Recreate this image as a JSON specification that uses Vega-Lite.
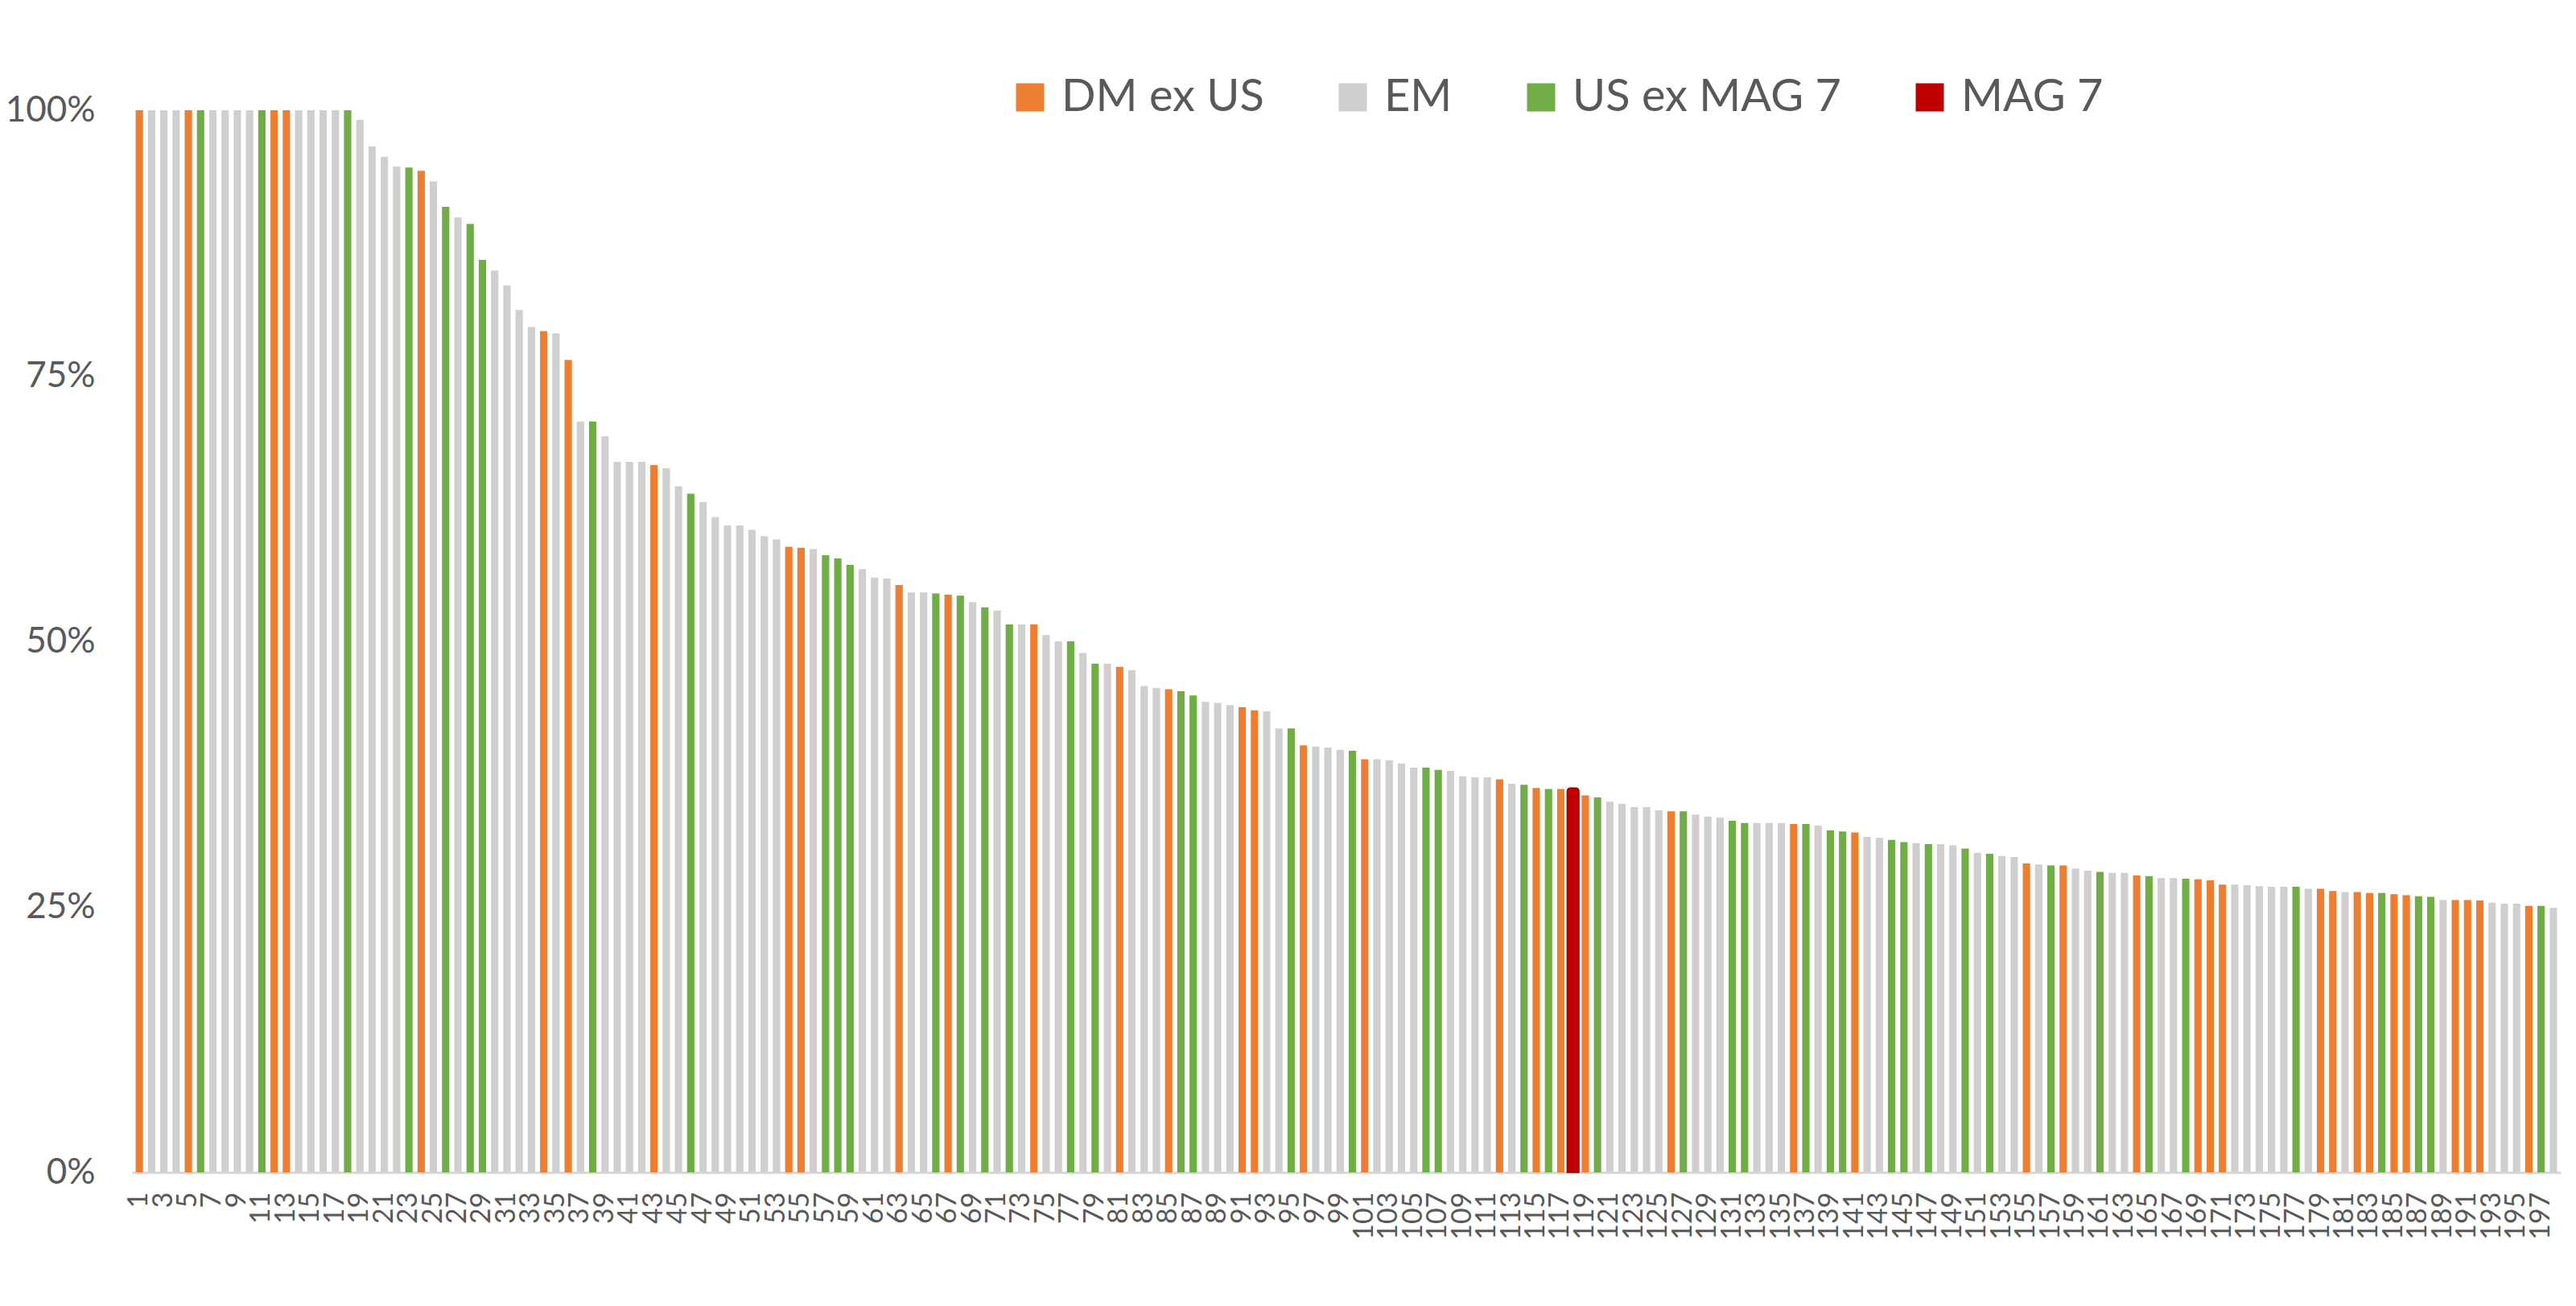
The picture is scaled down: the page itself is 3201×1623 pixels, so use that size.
{
  "$schema": "https://vega.github.io/schema/vega-lite/v6.json",
  "width": 3018,
  "height": 1320,
  "autosize": {"type": "none"},
  "padding": {"left": 164, "top": 137, "right": 19, "bottom": 166},
  "background": "white",
  "config": {"view": {"stroke": null}, "font": "Lato"},
  "data": {
    "values": [
      {"rank": 1, "region": "DM ex US", "share": 1.0},
      {"rank": 2, "region": "EM", "share": 1.0},
      {"rank": 3, "region": "EM", "share": 1.0},
      {"rank": 4, "region": "EM", "share": 1.0},
      {"rank": 5, "region": "DM ex US", "share": 1.0},
      {"rank": 6, "region": "US ex MAG 7", "share": 1.0},
      {"rank": 7, "region": "EM", "share": 1.0},
      {"rank": 8, "region": "EM", "share": 1.0},
      {"rank": 9, "region": "EM", "share": 1.0},
      {"rank": 10, "region": "EM", "share": 1.0},
      {"rank": 11, "region": "US ex MAG 7", "share": 1.0},
      {"rank": 12, "region": "DM ex US", "share": 1.0},
      {"rank": 13, "region": "DM ex US", "share": 1.0},
      {"rank": 14, "region": "EM", "share": 1.0},
      {"rank": 15, "region": "EM", "share": 1.0},
      {"rank": 16, "region": "EM", "share": 1.0},
      {"rank": 17, "region": "EM", "share": 1.0},
      {"rank": 18, "region": "US ex MAG 7", "share": 1.0},
      {"rank": 19, "region": "EM", "share": 0.991},
      {"rank": 20, "region": "EM", "share": 0.966},
      {"rank": 21, "region": "EM", "share": 0.956},
      {"rank": 22, "region": "EM", "share": 0.947},
      {"rank": 23, "region": "US ex MAG 7", "share": 0.946},
      {"rank": 24, "region": "DM ex US", "share": 0.943},
      {"rank": 25, "region": "EM", "share": 0.933},
      {"rank": 26, "region": "US ex MAG 7", "share": 0.909},
      {"rank": 27, "region": "EM", "share": 0.899},
      {"rank": 28, "region": "US ex MAG 7", "share": 0.893},
      {"rank": 29, "region": "US ex MAG 7", "share": 0.859},
      {"rank": 30, "region": "EM", "share": 0.849},
      {"rank": 31, "region": "EM", "share": 0.835},
      {"rank": 32, "region": "EM", "share": 0.812},
      {"rank": 33, "region": "EM", "share": 0.796},
      {"rank": 34, "region": "DM ex US", "share": 0.792},
      {"rank": 35, "region": "EM", "share": 0.790},
      {"rank": 36, "region": "DM ex US", "share": 0.765},
      {"rank": 37, "region": "EM", "share": 0.707},
      {"rank": 38, "region": "US ex MAG 7", "share": 0.707},
      {"rank": 39, "region": "EM", "share": 0.693},
      {"rank": 40, "region": "EM", "share": 0.669},
      {"rank": 41, "region": "EM", "share": 0.669},
      {"rank": 42, "region": "EM", "share": 0.669},
      {"rank": 43, "region": "DM ex US", "share": 0.666},
      {"rank": 44, "region": "EM", "share": 0.663},
      {"rank": 45, "region": "EM", "share": 0.646},
      {"rank": 46, "region": "US ex MAG 7", "share": 0.639},
      {"rank": 47, "region": "EM", "share": 0.631},
      {"rank": 48, "region": "EM", "share": 0.617},
      {"rank": 49, "region": "EM", "share": 0.609},
      {"rank": 50, "region": "EM", "share": 0.609},
      {"rank": 51, "region": "EM", "share": 0.605},
      {"rank": 52, "region": "EM", "share": 0.599},
      {"rank": 53, "region": "EM", "share": 0.596},
      {"rank": 54, "region": "DM ex US", "share": 0.589},
      {"rank": 55, "region": "DM ex US", "share": 0.588},
      {"rank": 56, "region": "EM", "share": 0.587},
      {"rank": 57, "region": "US ex MAG 7", "share": 0.581},
      {"rank": 58, "region": "US ex MAG 7", "share": 0.578},
      {"rank": 59, "region": "US ex MAG 7", "share": 0.572},
      {"rank": 60, "region": "EM", "share": 0.568},
      {"rank": 61, "region": "EM", "share": 0.560},
      {"rank": 62, "region": "EM", "share": 0.559},
      {"rank": 63, "region": "DM ex US", "share": 0.553},
      {"rank": 64, "region": "EM", "share": 0.546},
      {"rank": 65, "region": "EM", "share": 0.546},
      {"rank": 66, "region": "US ex MAG 7", "share": 0.545},
      {"rank": 67, "region": "DM ex US", "share": 0.544},
      {"rank": 68, "region": "US ex MAG 7", "share": 0.543},
      {"rank": 69, "region": "EM", "share": 0.537},
      {"rank": 70, "region": "US ex MAG 7", "share": 0.532},
      {"rank": 71, "region": "EM", "share": 0.529},
      {"rank": 72, "region": "US ex MAG 7", "share": 0.516},
      {"rank": 73, "region": "EM", "share": 0.516},
      {"rank": 74, "region": "DM ex US", "share": 0.516},
      {"rank": 75, "region": "EM", "share": 0.506},
      {"rank": 76, "region": "EM", "share": 0.500},
      {"rank": 77, "region": "US ex MAG 7", "share": 0.500},
      {"rank": 78, "region": "EM", "share": 0.489},
      {"rank": 79, "region": "US ex MAG 7", "share": 0.479},
      {"rank": 80, "region": "EM", "share": 0.479},
      {"rank": 81, "region": "DM ex US", "share": 0.476},
      {"rank": 82, "region": "EM", "share": 0.473},
      {"rank": 83, "region": "EM", "share": 0.458},
      {"rank": 84, "region": "EM", "share": 0.456},
      {"rank": 85, "region": "DM ex US", "share": 0.455},
      {"rank": 86, "region": "US ex MAG 7", "share": 0.453},
      {"rank": 87, "region": "US ex MAG 7", "share": 0.449},
      {"rank": 88, "region": "EM", "share": 0.443},
      {"rank": 89, "region": "EM", "share": 0.442},
      {"rank": 90, "region": "EM", "share": 0.440},
      {"rank": 91, "region": "DM ex US", "share": 0.438},
      {"rank": 92, "region": "DM ex US", "share": 0.435},
      {"rank": 93, "region": "EM", "share": 0.434},
      {"rank": 94, "region": "EM", "share": 0.418},
      {"rank": 95, "region": "US ex MAG 7", "share": 0.418},
      {"rank": 96, "region": "DM ex US", "share": 0.402},
      {"rank": 97, "region": "EM", "share": 0.401},
      {"rank": 98, "region": "EM", "share": 0.400},
      {"rank": 99, "region": "EM", "share": 0.398},
      {"rank": 100, "region": "US ex MAG 7", "share": 0.397},
      {"rank": 101, "region": "DM ex US", "share": 0.389},
      {"rank": 102, "region": "EM", "share": 0.389},
      {"rank": 103, "region": "EM", "share": 0.388},
      {"rank": 104, "region": "EM", "share": 0.385},
      {"rank": 105, "region": "EM", "share": 0.381},
      {"rank": 106, "region": "US ex MAG 7", "share": 0.381},
      {"rank": 107, "region": "US ex MAG 7", "share": 0.379},
      {"rank": 108, "region": "EM", "share": 0.378},
      {"rank": 109, "region": "EM", "share": 0.373},
      {"rank": 110, "region": "EM", "share": 0.372},
      {"rank": 111, "region": "EM", "share": 0.372},
      {"rank": 112, "region": "DM ex US", "share": 0.370},
      {"rank": 113, "region": "EM", "share": 0.366},
      {"rank": 114, "region": "US ex MAG 7", "share": 0.365},
      {"rank": 115, "region": "DM ex US", "share": 0.362},
      {"rank": 116, "region": "US ex MAG 7", "share": 0.361},
      {"rank": 117, "region": "DM ex US", "share": 0.361},
      {"rank": 118, "region": "MAG 7", "share": 0.362},
      {"rank": 119, "region": "DM ex US", "share": 0.355},
      {"rank": 120, "region": "US ex MAG 7", "share": 0.353},
      {"rank": 121, "region": "EM", "share": 0.349},
      {"rank": 122, "region": "EM", "share": 0.347},
      {"rank": 123, "region": "EM", "share": 0.344},
      {"rank": 124, "region": "EM", "share": 0.344},
      {"rank": 125, "region": "EM", "share": 0.341},
      {"rank": 126, "region": "DM ex US", "share": 0.340},
      {"rank": 127, "region": "US ex MAG 7", "share": 0.340},
      {"rank": 128, "region": "EM", "share": 0.337},
      {"rank": 129, "region": "EM", "share": 0.335},
      {"rank": 130, "region": "EM", "share": 0.334},
      {"rank": 131, "region": "US ex MAG 7", "share": 0.331},
      {"rank": 132, "region": "US ex MAG 7", "share": 0.329},
      {"rank": 133, "region": "EM", "share": 0.329},
      {"rank": 134, "region": "EM", "share": 0.329},
      {"rank": 135, "region": "EM", "share": 0.329},
      {"rank": 136, "region": "DM ex US", "share": 0.328},
      {"rank": 137, "region": "US ex MAG 7", "share": 0.328},
      {"rank": 138, "region": "EM", "share": 0.3265},
      {"rank": 139, "region": "US ex MAG 7", "share": 0.322},
      {"rank": 140, "region": "US ex MAG 7", "share": 0.321},
      {"rank": 141, "region": "DM ex US", "share": 0.320},
      {"rank": 142, "region": "EM", "share": 0.316},
      {"rank": 143, "region": "EM", "share": 0.315},
      {"rank": 144, "region": "US ex MAG 7", "share": 0.313},
      {"rank": 145, "region": "US ex MAG 7", "share": 0.311},
      {"rank": 146, "region": "EM", "share": 0.310},
      {"rank": 147, "region": "US ex MAG 7", "share": 0.309},
      {"rank": 148, "region": "EM", "share": 0.309},
      {"rank": 149, "region": "EM", "share": 0.308},
      {"rank": 150, "region": "US ex MAG 7", "share": 0.305},
      {"rank": 151, "region": "EM", "share": 0.301},
      {"rank": 152, "region": "US ex MAG 7", "share": 0.300},
      {"rank": 153, "region": "EM", "share": 0.298},
      {"rank": 154, "region": "EM", "share": 0.297},
      {"rank": 155, "region": "DM ex US", "share": 0.291},
      {"rank": 156, "region": "EM", "share": 0.290},
      {"rank": 157, "region": "US ex MAG 7", "share": 0.289},
      {"rank": 158, "region": "DM ex US", "share": 0.289},
      {"rank": 159, "region": "EM", "share": 0.286},
      {"rank": 160, "region": "EM", "share": 0.284},
      {"rank": 161, "region": "US ex MAG 7", "share": 0.283},
      {"rank": 162, "region": "EM", "share": 0.282},
      {"rank": 163, "region": "EM", "share": 0.282},
      {"rank": 164, "region": "DM ex US", "share": 0.2795},
      {"rank": 165, "region": "US ex MAG 7", "share": 0.279},
      {"rank": 166, "region": "EM", "share": 0.277},
      {"rank": 167, "region": "EM", "share": 0.277},
      {"rank": 168, "region": "US ex MAG 7", "share": 0.2765},
      {"rank": 169, "region": "DM ex US", "share": 0.276},
      {"rank": 170, "region": "DM ex US", "share": 0.275},
      {"rank": 171, "region": "DM ex US", "share": 0.271},
      {"rank": 172, "region": "EM", "share": 0.271},
      {"rank": 173, "region": "EM", "share": 0.2705},
      {"rank": 174, "region": "EM", "share": 0.2695},
      {"rank": 175, "region": "EM", "share": 0.269},
      {"rank": 176, "region": "EM", "share": 0.269},
      {"rank": 177, "region": "US ex MAG 7", "share": 0.269},
      {"rank": 178, "region": "EM", "share": 0.267},
      {"rank": 179, "region": "DM ex US", "share": 0.267},
      {"rank": 180, "region": "DM ex US", "share": 0.265},
      {"rank": 181, "region": "EM", "share": 0.264},
      {"rank": 182, "region": "DM ex US", "share": 0.264},
      {"rank": 183, "region": "DM ex US", "share": 0.263},
      {"rank": 184, "region": "US ex MAG 7", "share": 0.263},
      {"rank": 185, "region": "DM ex US", "share": 0.262},
      {"rank": 186, "region": "DM ex US", "share": 0.261},
      {"rank": 187, "region": "US ex MAG 7", "share": 0.260},
      {"rank": 188, "region": "US ex MAG 7", "share": 0.2595},
      {"rank": 189, "region": "EM", "share": 0.2565},
      {"rank": 190, "region": "DM ex US", "share": 0.2565},
      {"rank": 191, "region": "DM ex US", "share": 0.2565},
      {"rank": 192, "region": "DM ex US", "share": 0.256},
      {"rank": 193, "region": "EM", "share": 0.254},
      {"rank": 194, "region": "EM", "share": 0.253},
      {"rank": 195, "region": "EM", "share": 0.253},
      {"rank": 196, "region": "DM ex US", "share": 0.251},
      {"rank": 197, "region": "US ex MAG 7", "share": 0.251},
      {"rank": 198, "region": "EM", "share": 0.249}
    ]
  },
  "layer": [
    {
      "mark": {"type": "bar"},
      "encoding": {
        "x": {
          "field": "rank",
          "type": "ordinal",
          "scale": {"paddingInner": 0.4, "paddingOuter": 0.3},
          "axis": {
            "title": null,
            "labelAngle": -90,
            "labelFontSize": 34,
            "labelColor": "#595959",
            "labelPadding": 24,
            "labelOverlap": false,
            "labelExpr": "datum.value % 2 == 1 ? datum.label : ''",
            "ticks": false,
            "domainColor": "#D9D9D9",
            "domainWidth": 3
          }
        },
        "y": {
          "field": "share",
          "type": "quantitative",
          "scale": {"domain": [0, 1]},
          "axis": {
            "title": null,
            "values": [0, 0.25, 0.5, 0.75, 1],
            "format": ".0%",
            "grid": false,
            "domain": false,
            "ticks": false,
            "labelPadding": 46,
            "labelFontSize": 44,
            "labelColor": "#595959"
          }
        },
        "color": {
          "field": "region",
          "type": "nominal",
          "scale": {
            "domain": ["DM ex US", "EM", "US ex MAG 7", "MAG 7"],
            "range": ["#ED7D31", "#D0CECE", "#70AD47", "#C00000"]
          },
          "legend": {
            "title": null,
            "orient": "none",
            "legendX": 1088,
            "legendY": -44,
            "direction": "horizontal",
            "columns": 4,
            "columnPadding": 82,
            "padding": 0,
            "symbolType": "square",
            "symbolSize": 1225,
            "symbolStrokeWidth": 0,
            "labelFontSize": 56,
            "labelColor": "#595959",
            "labelOffset": 11,
            "labelLimit": 600
          }
        }
      }
    },
    {
      "transform": [{"filter": "datum.region === 'MAG 7'"}],
      "mark": {
        "type": "bar",
        "color": "#C00000",
        "stroke": "#9A0000",
        "strokeWidth": 1.5,
        "cornerRadiusTopLeft": 4,
        "cornerRadiusTopRight": 4,
        "width": {"band": 1.6}
      },
      "encoding": {
        "x": {"field": "rank", "type": "ordinal"},
        "y": {"field": "share", "type": "quantitative"}
      }
    }
  ]
}
